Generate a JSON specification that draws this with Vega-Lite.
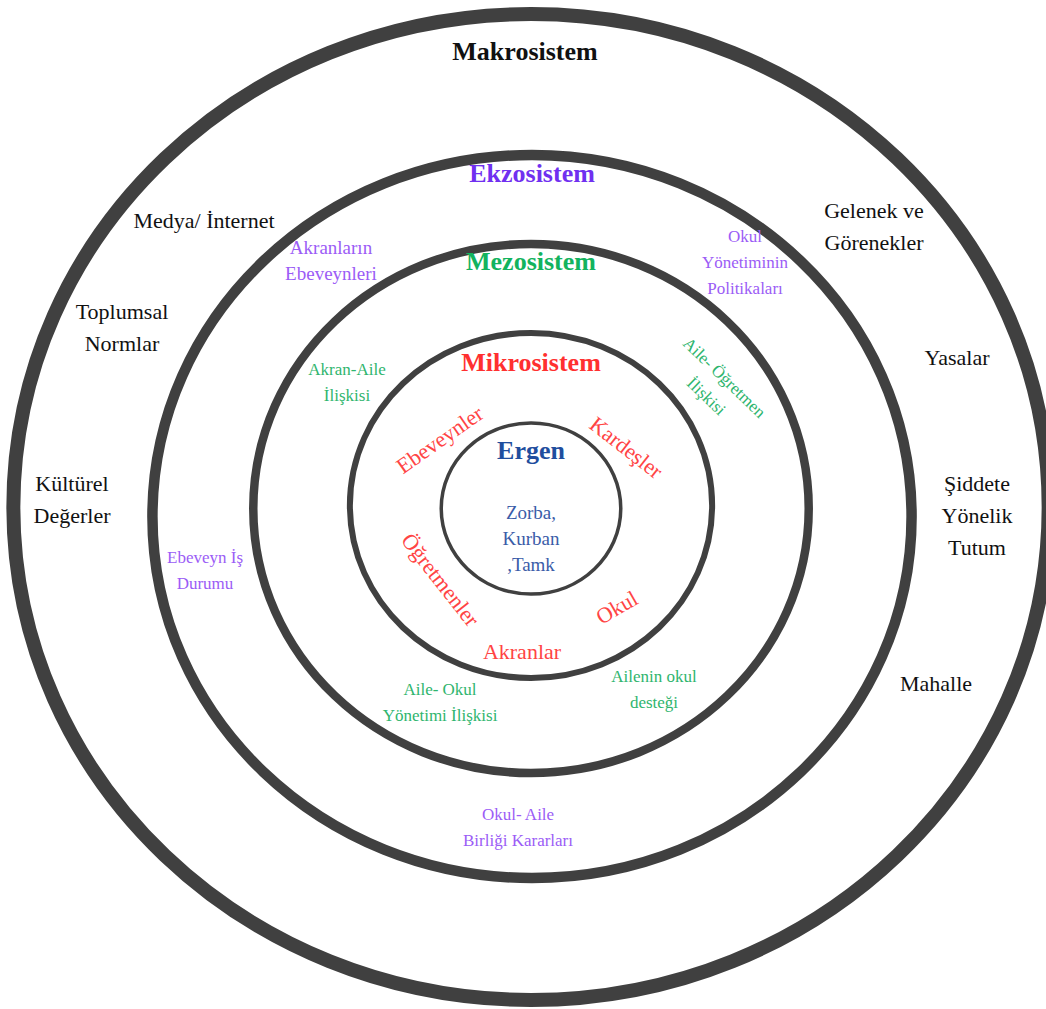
{
  "$schema": "https://vega.github.io/schema/vega-lite/v6.json",
  "width": 1046,
  "height": 1009,
  "padding": 0,
  "autosize": {"type": "none"},
  "background": "white",
  "config": {"view": {"stroke": null}},
  "datasets": {
    "rings": [
      {"ring": "Makrosistem", "cx": 0, "cy": 0, "ry": 493},
      {"ring": "Ekzosistem", "cx": 1, "cy": -9.5, "ry": 361.5},
      {"ring": "Mezosistem", "cx": 0, "cy": -1.5, "ry": 264.5},
      {"ring": "Mikrosistem", "cx": 0, "cy": 1.5, "ry": 172.5},
      {"ring": "Ergen", "cx": 0, "cy": -1.5, "ry": 85.5}
    ],
    "titles": [
      {"label": "Makrosistem", "x": -6, "y": 455, "grp": "makro"},
      {"label": "Ekzosistem", "x": 1, "y": 333, "grp": "ekzoT"},
      {"label": "Mezosistem", "x": 0, "y": 245, "grp": "mezoT"},
      {"label": "Mikrosistem", "x": 0, "y": 144, "grp": "mikroT"},
      {"label": "Ergen", "x": 0, "y": 56, "grp": "ergenT"}
    ],
    "makroLabels": [
      {"label": "Medya/ İnternet", "x": -327, "y": 286, "grp": "makro"},
      {"label": "Toplumsal\nNormlar", "x": -409, "y": 195, "grp": "makro"},
      {"label": "Kültürel\nDeğerler", "x": -459, "y": 23, "grp": "makro"},
      {"label": "Gelenek ve\nGörenekler", "x": 343, "y": 296, "grp": "makro"},
      {"label": "Yasalar", "x": 426, "y": 149, "grp": "makro"},
      {"label": "Şiddete\nYönelik\nTutum", "x": 446, "y": 23, "grp": "makro"},
      {"label": "Mahalle", "x": 405, "y": -177, "grp": "makro"}
    ],
    "labels": [
      {"label": "Zorba,\nKurban\n,Tamk", "x": 0, "y": -6, "grp": "ergen", "kind": "zorba", "rot": 0},
      {"label": "Ebeveynler", "x": -91, "y": 67, "grp": "mikro", "kind": "mikro", "rot": -35},
      {"label": "Kardeşler", "x": 95, "y": 59, "grp": "mikro", "kind": "mikro", "rot": 38},
      {"label": "Öğretmenler", "x": -91, "y": -73, "grp": "mikro", "kind": "mikro", "rot": 52},
      {"label": "Okul", "x": 86, "y": -101, "grp": "mikro", "kind": "mikro", "rot": -30},
      {"label": "Akranlar", "x": -9, "y": -145, "grp": "mikro", "kind": "mikro", "rot": 0},
      {"label": "Akran-Aile\nİlişkisi", "x": -184, "y": 137, "grp": "mezo", "kind": "small", "rot": 0},
      {"label": "Aile- Öğretmen\nİlişkisi", "x": 193, "y": 129, "grp": "mezo", "kind": "small", "rot": 44},
      {"label": "Aile- Okul\nYönetimi İlişkisi", "x": -91, "y": -183, "grp": "mezo", "kind": "small", "rot": 0},
      {"label": "Ailenin okul\ndesteği", "x": 123, "y": -170, "grp": "mezo", "kind": "small", "rot": 0},
      {"label": "Akranların\nEbeveynleri", "x": -200, "y": 259, "grp": "ekzo", "kind": "small2", "rot": 0},
      {"label": "Okul\nYönetiminin\nPolitikaları", "x": 214, "y": 270, "grp": "ekzo", "kind": "small", "rot": 0},
      {"label": "Ebeveyn İş\nDurumu", "x": -326, "y": -51, "grp": "ekzo", "kind": "small", "rot": 0},
      {"label": "Okul- Aile\nBirliği Kararları", "x": -13, "y": -308, "grp": "ekzo", "kind": "small", "rot": 0}
    ]
  },
  "encoding": {
    "x": {"field": "x", "type": "quantitative", "scale": {"domain": [-531, 515], "nice": false, "zero": false}, "axis": null},
    "y": {"field": "y", "type": "quantitative", "scale": {"domain": [-502, 507], "nice": false, "zero": false}, "axis": null},
    "color": {
      "field": "grp", "type": "nominal", "legend": null,
      "scale": {
        "domain": ["makro", "ekzoT", "ekzo", "mezoT", "mezo", "mikroT", "mikro", "ergenT", "ergen"],
        "range": ["#111111", "#7030f0", "#9b5cf6", "#12b35e", "#2fb56e", "#ff3030", "#ff4444", "#1f4e9e", "#3a5ca8"]
      }
    }
  },
  "layer": [
    {
      "data": {"name": "rings"},
      "mark": {
        "type": "point",
        "filled": false,
        "color": "#404040",
        "opacity": 1,
        "shape": "M1.05,0C1.05,0.5523,0.58,1,0,1C-0.58,1,-1.05,0.5523,-1.05,0C-1.05,-0.5523,-0.58,-1,0,-1C0.58,-1,1.05,-0.5523,1.05,0Z"
      },
      "encoding": {
        "x": {"field": "cx", "type": "quantitative"},
        "y": {"field": "cy", "type": "quantitative"},
        "color": {"value": "#404040"},
        "size": {"field": "ry", "type": "quantitative", "legend": null, "scale": {"type": "pow", "exponent": 2, "domain": [0, 500], "range": [0, 1000000]}},
        "strokeWidth": {
          "field": "ring", "type": "ordinal", "legend": null,
          "scale": {"type": "ordinal", "domain": ["Makrosistem", "Ekzosistem", "Mezosistem", "Mikrosistem", "Ergen"], "range": [14, 10.5, 8.5, 6, 3.5]}
        }
      }
    },
    {
      "data": {"name": "titles"},
      "mark": {"type": "text", "font": "Liberation Serif", "fontWeight": "bold", "fontSize": 26, "align": "center", "baseline": "middle"},
      "encoding": {"text": {"field": "label"}}
    },
    {
      "data": {"name": "makroLabels"},
      "mark": {"type": "text", "font": "Liberation Serif", "fontSize": 22, "lineHeight": 32, "lineBreak": "\n", "align": "center", "baseline": "middle"},
      "encoding": {"text": {"field": "label"}}
    },
    {
      "data": {"name": "labels"},
      "mark": {"type": "text", "font": "Liberation Serif", "lineHeight": 26, "lineBreak": "\n", "align": "center", "baseline": "middle"},
      "encoding": {
        "text": {"field": "label"},
        "angle": {"field": "rot", "type": "quantitative", "scale": null},
        "size": {"field": "kind", "type": "ordinal", "legend": null, "scale": {"type": "ordinal", "domain": ["zorba", "mikro", "small", "small2"], "range": [19, 22, 17, 19]}}
      }
    }
  ]
}
